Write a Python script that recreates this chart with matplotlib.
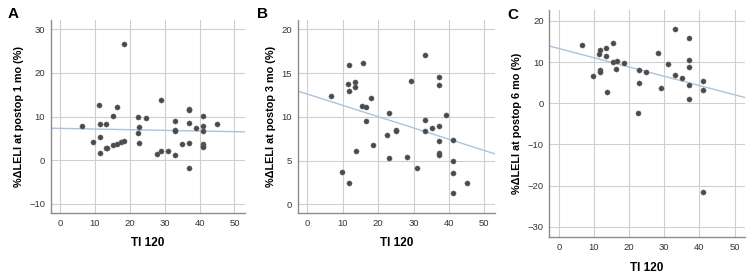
import matplotlib
matplotlib.use("Agg")
from matplotlib import pyplot as plt

plt.rcParams['font.family'] = ['Liberation Sans', 'DejaVu Sans']

# panel A: TI 120 vs %dLELI at 1 mo
a_x = [6.4, 9.3, 11.2, 11.3, 11.4, 11.4, 13.2, 13.2, 13.5, 15.2, 15.2, 16.3, 16.2,
       17.5, 18.3, 18.2, 22.2, 22.2, 22.7, 22.7, 24.7, 28.9, 27.8, 28.9, 30.9,
       32.8, 32.8, 32.8, 32.8, 34.9, 36.9, 36.9, 36.9, 36.9, 36.9, 38.9, 40.9,
       40.9, 40.9, 40.9, 40.9, 40.9, 44.9]
a_y = [7.9, 4.2, 12.7, 8.4, 5.3, 1.6, 8.2, 2.7, 2.8, 10.2, 3.4, 12.1, 3.7,
       4.2, 4.4, 26.7, 10.0, 6.3, 7.6, 3.9, 9.6, 13.7, 1.4, 2.1, 2.2,
       8.9, 7.0, 6.6, 1.3, 3.7, 11.8, 11.4, 8.5, 4.0, -1.8, 7.3, 10.2,
       7.9, 6.7, 3.7, 3.3, 3.0, 8.4]
a_fit = [7.3, -0.015]   # intercept, slope

# panel B: 3 mo
b_x = [6.7, 9.7, 11.7, 11.5, 11.8, 11.7, 13.6, 13.5, 13.8, 15.6, 15.5, 16.5, 16.6,
       17.9, 18.5, 22.5, 23.0, 23.0, 25.1, 25.1, 28.2, 29.2, 31.1, 33.2, 33.2,
       33.2, 35.2, 37.2, 37.2, 37.2, 37.2, 37.2, 37.2, 39.2, 41.2, 41.2, 41.2,
       41.2, 45.2]
b_y = [12.4, 3.7, 15.9, 13.7, 12.9, 2.4, 14.0, 13.4, 6.1, 16.2, 11.2, 11.1, 9.5,
       12.2, 6.8, 7.9, 10.4, 5.3, 8.5, 8.4, 5.4, 14.1, 4.1, 17.1, 9.6,
       8.4, 8.7, 14.6, 13.6, 8.9, 7.2, 5.9, 5.6, 10.2, 7.3, 5.0, 3.6,
       1.3, 2.4]
b_fit = [12.6, -0.129]

# panel C: 6 mo
c_x = [6.6, 9.6, 11.3, 11.7, 11.6, 11.7, 13.4, 13.4, 13.6, 15.4, 15.4, 16.5, 16.4,
       18.5, 22.5, 22.9, 22.9, 24.9, 28.1, 29.1, 31.0, 33.0, 33.0, 35.0, 37.0,
       37.0, 37.0, 37.0, 37.0, 41.0, 41.0, 41.0]
c_y = [14.2, 6.6, 11.9, 12.9, 8.1, 7.7, 13.5, 11.5, 2.7, 14.6, 10.0, 10.3, 8.4,
       9.8, -2.3, 8.0, 4.9, 7.7, 12.3, 3.8, 9.6, 18.1, 6.8, 6.1, 15.8,
       10.4, 8.7, 4.4, 1.0, 5.4, 3.3, -21.6]
c_fit = [13.3, -0.225]

x_ticks = [0, 10, 20, 30, 40, 50]

fig = plt.figure(figsize=(7.5, 2.76), dpi=100)

panels = [
    ('A', [0.0676, 0.228, 0.259, 0.699], a_x, a_y, a_fit, (-12.1, 32.1), [-10, 0, 10, 20, 30],
     '%ΔLELI at postop 1 mo (%)', (8 / 750, 1 - 14 / 276)),
    ('B', [0.397, 0.228, 0.263, 0.699], b_x, b_y, b_fit, (-1.0, 21.05), [0, 5, 10, 15, 20],
     '%ΔLELI at postop 3 mo (%)', (257 / 750, 1 - 14 / 276)),
    ('C', [0.7324, 0.140, 0.261, 0.823], c_x, c_y, c_fit, (-32.6, 22.6), [-30, -20, -10, 0, 10, 20],
     '%ΔLELI at postop 6 mo (%)', (507 / 750, 1 - 15 / 276)),
]

for letter, rect, xs, ys, fit, ylim, yt, ylab, lpos in panels:
    ax = fig.add_axes(rect)
    ax.set_xlim(-2.7, 53)
    ax.set_ylim(*ylim)
    ax.set_xticks(x_ticks)
    ax.set_yticks(yt)
    ax.grid(True, color='#cfcfcf', linewidth=0.8)
    ax.set_axisbelow(True)
    for s in ['top', 'right']:
        ax.spines[s].set_visible(False)
    for s in ['left', 'bottom']:
        ax.spines[s].set_color('#8c8c8c')
        ax.spines[s].set_linewidth(1.0)
    ax.tick_params(length=0, labelsize=6.8, colors='#333333', pad=4)

    lx = [-2.7, 53]
    ax.plot(lx, [fit[0] + fit[1] * v for v in lx], color='#a9c3e0', linewidth=1.0, zorder=2)
    ax.scatter(xs, ys, s=14, color='#4a4a4a', edgecolors='#6a6a6a', linewidths=0.3, zorder=3)

    ax.set_xlabel('TI 120', fontsize=8.5, fontweight='bold', labelpad=7)
    ax.set_ylabel(ylab, fontsize=7.8, fontweight='bold', labelpad=4)
    fig.text(lpos[0], lpos[1], letter, fontsize=11, fontweight='bold', va='center')

fig.savefig('out.png', dpi=100)
